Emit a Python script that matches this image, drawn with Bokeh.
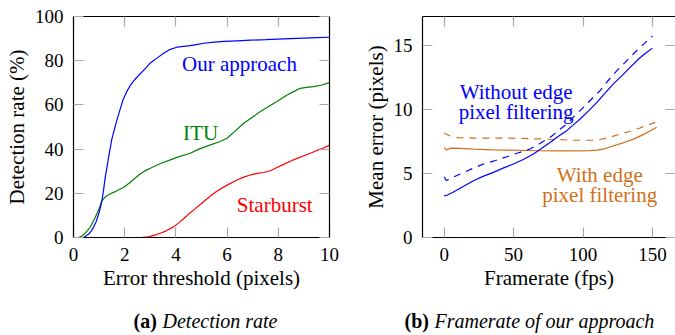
import numpy as np
from bokeh.plotting import figure
from bokeh.models import LinearAxis, Label, Range1d, FixedTicker
from bokeh.layouts import row, column
from bokeh.embed import file_html
from bokeh.resources import INLINE

# ---------------- data: (a) detection rate ----------------
our_x = [0, 0.39, 0.5, 0.59, 0.7, 0.78, 0.88, 0.98, 1.05, 1.11, 1.18, 1.24, 1.31, 1.37, 1.44, 1.5,
         1.6, 1.69, 1.82, 1.95, 2.08, 2.21, 2.4, 2.6, 2.85, 3.0, 3.12, 3.3, 3.52, 3.75, 4.04, 4.3,
         4.56, 4.8, 5.09, 5.5, 5.87, 6.4, 6.91, 7.5, 8.21, 9.0, 9.5, 10]
our_y = [0, 0, 0.8, 1.5, 3.0, 4.6, 7.0, 10.6, 13.5, 16.6, 22.0, 27.2, 32.0, 36.3, 40.8, 44.6,
         49.0, 52.9, 58.0, 62.7, 66.0, 68.7, 71.5, 74.0, 77.0, 79.0, 80.0, 81.5, 83.4, 85.0, 86.1, 86.5,
         86.8, 87.3, 87.9, 88.4, 88.7, 89.0, 89.3, 89.5, 89.9, 90.2, 90.4, 90.6]

itu_x = [0, 0.2, 0.3, 0.39, 0.5, 0.65, 0.78, 0.91, 1.0, 1.11, 1.2, 1.3, 1.43, 1.56, 1.75, 1.95,
         2.21, 2.4, 2.6, 2.85, 3.0, 3.12, 3.4, 3.78, 4.1, 4.56, 4.9, 5.35, 5.7, 6.0, 6.3, 6.65,
         7.0, 7.3, 7.65, 7.95, 8.34, 8.6, 8.86, 9.1, 9.38, 9.7, 10]
itu_y = [0, 0, 0.5, 1.2, 2.5, 4.6, 7.5, 10.6, 13.0, 16.6, 17.8, 18.9, 19.7, 20.4, 21.5, 22.6,
         24.9, 26.8, 28.7, 30.5, 31.3, 32.0, 33.5, 35.1, 36.5, 38.1, 40.0, 41.9, 43.3, 44.9, 48.0, 51.7,
         54.5, 57.0, 59.5, 61.5, 64.5, 66.0, 67.5, 67.9, 68.3, 69.0, 70.1]

star_x = [0, 2.5, 2.7, 2.9, 3.0, 3.2, 3.39, 3.6, 3.91, 4.1, 4.31, 4.5, 4.69, 5.09, 5.35, 5.61,
          6.0, 6.39, 6.65, 6.91, 7.17, 7.43, 7.69, 7.95, 8.21, 8.47, 8.73, 9.0, 9.25, 9.51, 9.77, 10]
star_y = [0, 0, 0.1, 0.3, 0.5, 1.2, 1.9, 2.9, 4.8, 6.5, 8.6, 10.6, 12.4, 16.3, 18.8, 21.0,
          23.7, 26.0, 27.3, 28.3, 29.0, 29.4, 30.2, 31.7, 33.1, 34.5, 35.8, 37.0, 38.1, 39.4, 40.5, 41.8]

a_xticks = [0, 2, 4, 6, 8, 10]
a_yticks = [0, 20, 40, 60, 80, 100]

# ---------------- data: (b) framerate ----------------
wo_x = [0, 2, 6.7, 14, 21.1, 28, 35.5, 42, 49.9, 57, 64.3, 70, 76.3, 82, 88.3, 93, 97.9, 104,
        110, 116, 121.9, 128, 133.9, 140, 145, 150]
wo_y = [3.25, 3.3, 3.55, 4.0, 4.44, 4.78, 5.09, 5.4, 5.74, 6.1, 6.52, 6.95, 7.43, 7.9, 8.35, 8.8,
        9.26, 9.9, 10.56, 11.3, 12.0, 12.65, 13.3, 13.95, 14.4, 14.8]

wo_d_x = [0, 1.5, 6, 14.4, 21, 28.3, 37, 45.1, 53, 61.9, 69, 76.3, 82, 88.3, 94, 100.3, 106,
          112.3, 118, 124.4, 130, 136.3, 142, 150]
wo_d_y = [4.75, 4.45, 4.7, 5.09, 5.42, 5.74, 6.02, 6.31, 6.6, 6.92, 7.35, 7.82, 8.33, 8.87, 9.5,
          10.17, 10.8, 11.48, 12.25, 13.04, 13.65, 14.35, 14.95, 15.75]

w_x = [0, 1.5, 5, 12, 21, 35, 45, 60, 69, 80, 93.9, 105, 110, 116, 122, 129, 136.3, 143, 150.8, 153]
w_y = [7.05, 6.85, 6.98, 6.97, 6.9, 6.85, 6.83, 6.8, 6.78, 6.77, 6.77, 6.79, 6.83, 6.95, 7.17,
       7.4, 7.69, 8.02, 8.48, 8.62]

w_d_x = [0, 4, 9.6, 21, 45, 69, 93.9, 105, 112.3, 119, 126.6, 134, 141, 147, 152]
w_d_y = [8.15, 7.95, 7.8, 7.77, 7.77, 7.7, 7.6, 7.6, 7.66, 7.82, 8.08, 8.3, 8.56, 8.8, 9.0]

b_xticks = [0, 50, 100, 150]
b_yticks = [0, 5, 10, 15]

FONT = "Liberation Serif"
BLUE = "#0000ff"
GREEN = "#008000"
RED = "#ff0000"
ORANGE = "#d0701a"
TICKC = "#a8a8a8"
H = 305      # main plots
HC = 30      # caption strip


def style_axis(ax, ticks, labels=True, line=True):
    ax.ticker = FixedTicker(ticks=ticks)
    ax.major_tick_in = 10
    ax.major_tick_out = 0
    ax.minor_tick_line_color = None
    ax.major_tick_line_color = TICKC
    ax.major_tick_line_width = 1.2
    ax.axis_line_color = "black" if line else None
    ax.axis_line_width = 1.2
    ax.major_label_text_font = FONT
    ax.axis_label_text_font = FONT
    ax.axis_label_text_font_style = "normal"
    ax.axis_label_text_font_size = "21px"
    ax.axis_label_text_color = "black"
    if labels:
        ax.major_label_text_color = "black"
        ax.major_label_text_font_size = "19px"
        ax.major_label_standoff = 10
    else:
        ax.major_label_text_color = None
        ax.major_label_text_font_size = "1px"
        ax.major_label_standoff = 0


def make_fig(width, xr, yr, mbl, mbr):
    p = figure(width=width, height=H, x_range=Range1d(*xr), y_range=Range1d(*yr),
               output_backend="svg", toolbar_location=None,
               min_border_left=mbl, min_border_right=mbr, min_border_top=16,
               min_border_bottom=H - 237)
    p.xgrid.visible = False
    p.ygrid.visible = False
    p.outline_line_color = None
    p.background_fill_color = "white"
    p.border_fill_color = "white"
    return p


def make_caption(width):
    c = figure(width=width, height=HC, x_range=Range1d(0, width), y_range=Range1d(0, HC),
               output_backend="svg", toolbar_location=None, x_axis_type=None, y_axis_type=None,
               min_border=0)
    c.xgrid.visible = False
    c.ygrid.visible = False
    c.outline_line_color = None
    c.background_fill_color = "white"
    c.border_fill_color = "white"
    return c


def add_label(p, x, y, text, color, size="21px", style="normal", align="left", xoff=0):
    p.add_layout(Label(x=x, y=y, text=text, text_color=color, text_font=FONT,
                       text_font_size=size, text_font_style=style, x_offset=xoff,
                       text_align=align, text_baseline="alphabetic"))


# ---------------- figure (a) ----------------
pa = make_fig(340, (0, 10), (0, 100), 73, 11)
style_axis(pa.xaxis[0], a_xticks)
style_axis(pa.yaxis[0], a_yticks)
pa.xaxis[0].axis_label = "Error threshold (pixels)"
pa.yaxis[0].axis_label = "Detection rate (%)"
pa.xaxis[0].axis_label_standoff = 2
pa.yaxis[0].axis_label_standoff = 3
top_a = LinearAxis()
style_axis(top_a, a_xticks, labels=False)
pa.add_layout(top_a, "above")
right_a = LinearAxis()
style_axis(right_a, a_yticks, labels=False)
pa.add_layout(right_a, "right")

pa.line(itu_x, itu_y, line_color=GREEN, line_width=1.2)
pa.line(star_x, star_y, line_color=RED, line_width=1.2)
pa.line(our_x, our_y, line_color=BLUE, line_width=1.2)

add_label(pa, 4.24, 78.7, "Our approach", BLUE)
add_label(pa, 4.28, 47.5, "ITU", GREEN)
add_label(pa, 6.38, 14.5, "Starburst", RED)

# ---------------- figure (b) ----------------
pb = make_fig(335, (-15.6, 166.6), (0, 17.27), 82, 0)
style_axis(pb.xaxis[0], b_xticks)
style_axis(pb.yaxis[0], b_yticks)
pb.xaxis[0].axis_label = "Framerate (fps)"
pb.yaxis[0].axis_label = "Mean error (pixels)"
pb.xaxis[0].axis_label_standoff = 2
pb.yaxis[0].axis_label_standoff = 3
top_b = LinearAxis()
style_axis(top_b, b_xticks, labels=False)
pb.add_layout(top_b, "above")
right_b = LinearAxis()
style_axis(right_b, b_yticks, labels=False, line=False)
pb.add_layout(right_b, "right")

pb.line(w_d_x, w_d_y, line_color=ORANGE, line_width=1.2, line_dash="7 6")
pb.line(w_x, w_y, line_color=ORANGE, line_width=1.2)
pb.line(wo_d_x, wo_d_y, line_color=BLUE, line_width=1.2, line_dash="7 6")
pb.line(wo_x, wo_y, line_color=BLUE, line_width=1.2)

add_label(pb, 51.8, 11.4, "Without edge", BLUE, align="center")
add_label(pb, 51.8, 9.77, "pixel filtering", BLUE, align="center")
add_label(pb, 112, 4.92, "With edge", ORANGE, align="center")
add_label(pb, 112, 3.36, "pixel filtering", ORANGE, align="center")

# ---------------- captions ----------------
ca = make_caption(340)
add_label(ca, 207, 15, "(a)", "black", size="20px", style="bold", xoff=-74)
add_label(ca, 207, 15, "Detection rate", "black", size="20px", style="italic", xoff=-74 + 29)

cb = make_caption(335)
add_label(cb, 192, 15, "(b)", "black", size="20px", style="bold", xoff=-128)
add_label(cb, 192, 15, "Framerate of our approach", "black", size="20px", style="italic", xoff=-128 + 30)

layout = column(row(pa, pb), row(ca, cb))
open("out.html", "w").write(file_html(layout, INLINE))
